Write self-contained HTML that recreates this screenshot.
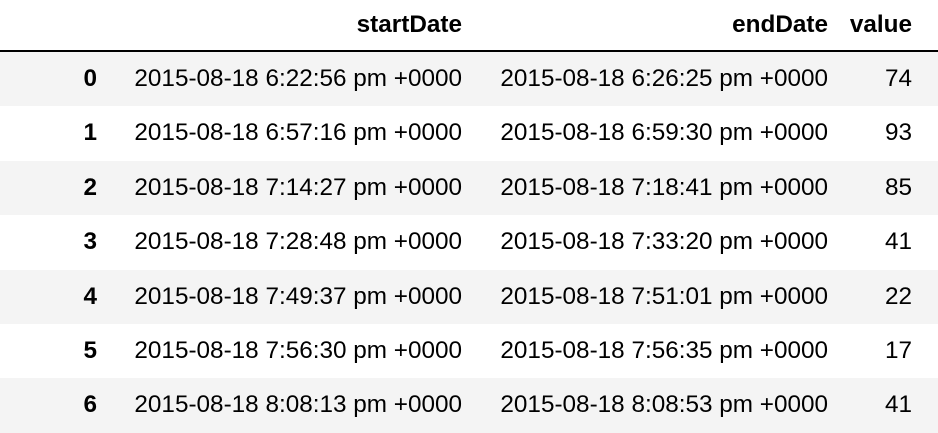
<!DOCTYPE html>
<html><head><meta charset="utf-8"><style>
body{margin:0;width:938px;height:428px;background:#fff;overflow:hidden;font-family:"Liberation Sans",Arial,sans-serif;font-size:24.3px;color:#000;position:relative}
.r{position:absolute;left:0;width:938px;height:54.4px}
.g{background:#f4f4f4}
.c{position:absolute;top:0;height:54px;line-height:54px;text-align:right;white-space:nowrap}
.b{font-weight:bold}
#rule{position:absolute;left:0;top:50px;width:938px;height:2px;background:#000}
</style></head><body>
<div class="r" style="top:-2px">
<div class="c b" style="right:476px">startDate</div>
<div class="c b" style="right:110px">endDate</div>
<div class="c b" style="right:26px">value</div>
</div>
<div id="rule"></div>
<div id="rows"></div>
<script>
const idx=[0,1,2,3,4,5,6];
const starts=["2015-08-18 6:22:56 pm +0000","2015-08-18 6:57:16 pm +0000","2015-08-18 7:14:27 pm +0000","2015-08-18 7:28:48 pm +0000","2015-08-18 7:49:37 pm +0000","2015-08-18 7:56:30 pm +0000","2015-08-18 8:08:13 pm +0000"];
const ends=["2015-08-18 6:26:25 pm +0000","2015-08-18 6:59:30 pm +0000","2015-08-18 7:18:41 pm +0000","2015-08-18 7:33:20 pm +0000","2015-08-18 7:51:01 pm +0000","2015-08-18 7:56:35 pm +0000","2015-08-18 8:08:53 pm +0000"];
const vals=[74,93,85,41,22,17,41];
const host=document.getElementById('rows');
idx.forEach((k,i)=>{
 const r=document.createElement('div');
 r.className='r'+(i%2===0?' g':'');
 r.style.top=(52+i*54.4)+'px';
 
 
 const cells=[[k,841,'index-cell',' b'],[starts[i],476,'startdate-cell',''],[ends[i],110,'enddate-cell',''],[vals[i],26,'value-cell','']];
 cells.forEach(c=>{
  const d=document.createElement('div');
  d.className='c'+c[3];
  d.style.right=c[1]+'px';
  d.textContent=c[0];
  
  
  r.appendChild(d);
 });
 host.appendChild(r);
});
</script>
</body></html>
